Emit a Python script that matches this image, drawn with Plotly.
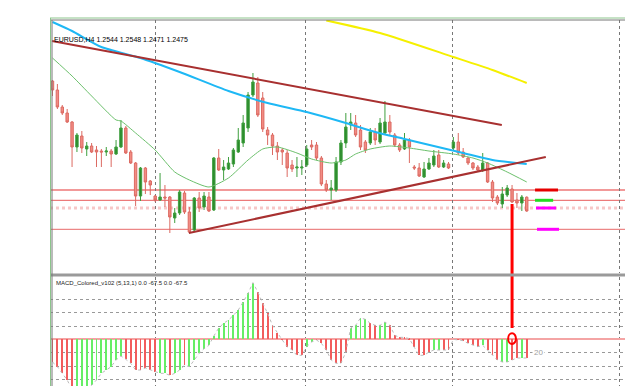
import plotly.graph_objects as go

# ---------------- data ----------------
bars = list(range(98))

# EURUSD H4 prices in pips (price * 10000)
highs = [13130, 13110, 13005, 12985, 12925, 12865, 12875, 12820, 12815, 12800,
         12785, 12795, 12785, 12830, 12930, 12900, 12780, 12720, 12695, 12695,
         12630, 12555, 12665, 12605, 12550, 12490, 12580, 12575, 12495, 12545,
         12570, 12570, 12570, 12745, 12785, 12730, 12745, 12790, 12890, 12955,
         13070, 13165, 13145, 13070, 12895, 12865, 12820, 12790, 12780, 12730,
         12745, 12730, 12805, 12830, 12820, 12750, 12630, 12630, 12745, 12830,
         12965, 12965, 12955, 12905, 12830, 12890, 12890, 12940, 13025, 12955,
         12865, 12815, 12865, 12840, 12705, 12715, 12720, 12740, 12780, 12780,
         12730, 12720, 12845, 12865, 12790, 12745, 12720, 12705, 12765, 12720,
         12630, 12555, 12595, 12605, 12605, 12565, 12555, 12548]
opens = [13125, 13080, 12995, 12965, 12920, 12795, 12850, 12785, 12800, 12780,
         12775, 12770, 12775, 12760, 12795, 12890, 12770, 12715, 12550, 12690,
         12625, 12550, 12530, 12545, 12545, 12440, 12465, 12565, 12470, 12380,
         12540, 12495, 12545, 12480, 12740, 12680, 12685, 12710, 12770, 12815,
         12890, 13055, 13115, 13040, 12880, 12855, 12800, 12780, 12765, 12705,
         12690, 12690, 12705, 12805, 12805, 12740, 12610, 12580, 12580, 12720,
         12815, 12905, 12915, 12880, 12820, 12815, 12870, 12820, 12865, 12920,
         12855, 12805, 12785, 12830, 12695, 12690, 12645, 12685, 12705, 12755,
         12695, 12710, 12790, 12820, 12770, 12740, 12715, 12695, 12680, 12715,
         12620, 12545, 12510, 12555, 12585, 12530, 12515, 12544]
closes = [13080, 12995, 12965, 12920, 12795, 12855, 12790, 12800, 12770, 12770,
          12770, 12775, 12760, 12795, 12890, 12765, 12715, 12550, 12690, 12620,
          12605, 12530, 12545, 12540, 12445, 12465, 12570, 12470, 12370, 12540,
          12490, 12550, 12475, 12740, 12680, 12695, 12715, 12780, 12830, 12915,
          13055, 13120, 12955, 12885, 12855, 12800, 12770, 12770, 12690, 12685,
          12695, 12695, 12785, 12795, 12740, 12610, 12580, 12590, 12720, 12815,
          12895, 12920, 12855, 12795, 12780, 12870, 12830, 12915, 12920, 12870,
          12805, 12780, 12830, 12795, 12690, 12650, 12685, 12715, 12750, 12695,
          12715, 12690, 12820, 12765, 12745, 12715, 12690, 12680, 12715, 12620,
          12540, 12515, 12560, 12590, 12520, 12515, 12545, 12475]
lows = [13050, 12985, 12955, 12915, 12695, 12770, 12765, 12750, 12765, 12695,
        12695, 12750, 12695, 12755, 12790, 12760, 12710, 12500, 12525, 12560,
        12555, 12520, 12525, 12495, 12365, 12415, 12455, 12460, 12365, 12370,
        12470, 12480, 12470, 12475, 12675, 12630, 12680, 12695, 12765, 12795,
        12870, 13045, 12945, 12870, 12805, 12755, 12730, 12705, 12645, 12670,
        12645, 12655, 12695, 12780, 12730, 12600, 12570, 12530, 12570, 12705,
        12790, 12880, 12845, 12780, 12765, 12805, 12805, 12810, 12855, 12855,
        12795, 12770, 12780, 12715, 12680, 12645, 12640, 12680, 12695, 12690,
        12690, 12685, 12780, 12755, 12740, 12705, 12680, 12670, 12670, 12615,
        12520, 12505, 12490, 12545, 12515, 12490, 12475, 12471]

# moving averages, read at selected bars (bar index, pips)
ma_blue_bars = [0, 4, 10, 18, 26, 36, 44, 52, 60, 66, 72, 78, 84, 90, 97]
ma_blue_vals = [13420, 13375, 13295, 13240, 13170, 13075, 13015, 12970, 12915,
                12870, 12835, 12800, 12765, 12730, 12710]
ma_green_bars = [0, 4, 8, 13, 14, 17, 21, 25, 28, 32, 36, 40, 43, 46, 50, 53,
                 57, 60, 62, 65, 69, 73, 77, 82, 86, 89, 93, 97]
ma_green_vals = [13240, 13150, 13050, 12930, 12925, 12865, 12780, 12670, 12630,
                 12595, 12640, 12730, 12785, 12795, 12765, 12735, 12715, 12730,
                 12760, 12785, 12800, 12790, 12775, 12760, 12740, 12715, 12670,
                 12620]
ma_yellow_bars = [56, 67, 82, 90, 97]
ma_yellow_vals = [13428, 13365, 13245, 13180, 13115]

# trend lines (bar index, pips)
trend_upper = ([-0.1, 91.9], [13325, 12905])
trend_lower = ([27.9, 100.9], [12365, 12745])

# horizontal levels and their marker colours
levels = [12580, 12528.5, 12490, 12383.5]
level_marker_colors = ['#e60000', '#22dd22', '#ff00ff', '#ff00ff']
level_marker_span = [(98.7, 103.4), (98.7, 102.4), (98.9, 103.0), (99.1, 103.6)]

# MACD histogram
macd = [-34, -41, -51, -61, -75, -84, -85, -75, -69, -61,
        -51, -46, -41, -31, -25, -30, -36, -46, -46, -43,
        -46, -49, -51, -51, -54, -51, -46, -39, -41, -31,
        -21, -14, -9, 5, 17, 24, 29, 36, 44, 56,
        69, 85, 71, 54, 39, 21, 9, -1, -11, -16,
        -24, -24, -11, -4, -1, -6, -16, -31, -36, -36,
        -19, 17, 21, 32, 30, 24, 21, 21, 26, 21,
        6, 3, 3, 1, -12, -24, -24, -19, -16, -16,
        -16, -16, 0, -1, -2, -6, -9, -11, -9, -16,
        -24, -31, -34, -34, -31, -28, -28, -28]
macd_colors = ("rrrrr" "gggggggggg" "rrrrrrr" "gg" "r" "gg" "r" "gggggggggggggg"
               "rrrrrrrrrr" "gg" "rrrrrrr" "gggg" "rr" "gg" "rrrrrrrrr" "gg" "rr"
               "g" "rrrrr" "g" "rrr" "gg" "rr" "g" "r")
grid_bars = [21, 51.85, 81.9, 116.05]
signal_bar = 94

title_text = "EURUSD,H4 1.2544 1.2548 1.2471 1.2475"
macd_text = "MACD_Colored_v102 (5,13,1) 0.0 -67.5 0.0 -67.5"

# ---------------- layout geometry ----------------
W, H = 625, 386
ML, MT = 50, 20
PLOT_H = H - MT


def py(p):
    return (H - p) / PLOT_H


def pxp(p):
    return (p - ML) / (W - ML)


X_RANGE = [-0.51, 117.1]
Y_MAIN = [12165, 13430]
D_MAIN = [py(273), 1.0]
Y_MACD = [-70, 93.5]
D_MACD = [0.0, py(277)]


def main_paper(v):
    return D_MAIN[0] + (v - Y_MAIN[0]) / (Y_MAIN[1] - Y_MAIN[0]) * (D_MAIN[1] - D_MAIN[0])


def macd_paper(v):
    return D_MACD[0] + (v - Y_MACD[0]) / (Y_MACD[1] - Y_MACD[0]) * (D_MACD[1] - D_MACD[0])


fig = go.Figure()

# candles
fig.add_trace(go.Candlestick(
    x=bars, open=opens, high=highs, low=lows, close=closes,
    xaxis='x', yaxis='y',
    increasing=dict(fillcolor='#2b8a2b', line=dict(color='#3f9f3f', width=1)),
    decreasing=dict(fillcolor='#f28c84', line=dict(color='#dc6a62', width=1)),
    whiskerwidth=0, showlegend=False, hoverinfo='skip'))

# moving averages
fig.add_trace(go.Scatter(x=ma_green_bars, y=ma_green_vals, mode='lines',
                         line=dict(color='#6cc06c', width=1, shape='spline', smoothing=0.6),
                         xaxis='x', yaxis='y', showlegend=False, hoverinfo='skip'))
fig.add_trace(go.Scatter(x=ma_blue_bars, y=ma_blue_vals, mode='lines',
                         line=dict(color='#1eb8f5', width=2, shape='spline', smoothing=0.6),
                         xaxis='x', yaxis='y', showlegend=False, hoverinfo='skip'))
fig.add_trace(go.Scatter(x=ma_yellow_bars, y=ma_yellow_vals, mode='lines',
                         line=dict(color='#f5f000', width=2, shape='spline', smoothing=0.6),
                         xaxis='x', yaxis='y', showlegend=False, hoverinfo='skip'))

# trend lines
for tl in (trend_upper, trend_lower):
    fig.add_trace(go.Scatter(x=tl[0], y=tl[1], mode='lines',
                             line=dict(color='#a83030', width=2),
                             xaxis='x', yaxis='y', showlegend=False, hoverinfo='skip'))

# MACD histogram
cmap = {'g': '#66ee66', 'r': '#f25c5c'}
fig.add_trace(go.Bar(x=bars, y=macd, marker=dict(color=[cmap[c] for c in macd_colors], line=dict(width=0)),
                     width=0.2, xaxis='x2', yaxis='y2', showlegend=False, hoverinfo='skip'))
fig.add_trace(go.Scatter(x=bars, y=macd, mode='lines',
                         line=dict(color='#bbbbbb', width=1, dash='dot'),
                         xaxis='x2', yaxis='y2', showlegend=False, hoverinfo='skip'))

shapes = []
# horizontal levels
level_styles = [dict(color='rgba(236,110,110,0.7)', width=2),
                dict(color='#e85a5a', width=1),
                dict(color='rgba(242,170,170,0.65)', width=3, dash='dot'),
                dict(color='#e86a6a', width=1)]
for lv, st in zip(levels, level_styles):
    shapes.append(dict(type='line', xref='paper', x0=0, x1=1, yref='y', y0=lv, y1=lv,
                       line=st, layer='below'))
for lv, col, (a, b) in zip(levels, level_marker_colors, level_marker_span):
    shapes.append(dict(type='line', xref='x', x0=a, x1=b, yref='y', y0=lv, y1=lv,
                       line=dict(color=col, width=3)))

# vertical signal line and circle
shapes.append(dict(type='line', xref='x', x0=signal_bar, x1=signal_bar, yref='paper',
                   y0=main_paper(12510), y1=macd_paper(17), line=dict(color='#ff0000', width=3)))
shapes.append(dict(type='circle', xref='x2', yref='y2', x0=signal_bar - 0.8, x1=signal_bar + 0.8,
                   y0=-7, y1=9, line=dict(color='#ff0000', width=2)))

# panel frames
shapes.append(dict(type='line', xref='paper', yref='paper', x0=0, x1=1, y0=py(18), y1=py(18),
                   line=dict(color='#8cc48c', width=1)))
shapes.append(dict(type='line', xref='paper', yref='paper', x0=0, x1=1, y0=py(20), y1=py(20),
                   line=dict(color='#777777', width=1)))
shapes.append(dict(type='rect', xref='paper', yref='paper', x0=0, x1=1, y0=py(276.5), y1=py(273.5),
                   fillcolor='#9a9a9a', line=dict(width=0)))
shapes.append(dict(type='line', xref='paper', yref='paper', x0=pxp(50.5), x1=pxp(50.5), y0=0, y1=py(18),
                   line=dict(color='#8cc48c', width=1)))
shapes.append(dict(type='line', xref='paper', yref='paper', x0=pxp(52), x1=pxp(52), y0=0, y1=py(20),
                   line=dict(color='#777777', width=1)))

annotations = [
    dict(text=title_text, xref='paper', yref='paper', x=pxp(52), y=py(40), xanchor='left',
         yanchor='middle', showarrow=False, font=dict(family='Liberation Sans', size=7, color='#000000')),
    dict(text=macd_text, xref='paper', yref='paper', x=pxp(54), y=py(283), xanchor='left',
         yanchor='middle', showarrow=False, font=dict(family='Liberation Sans', size=6, color='#222222')),
    dict(text='20', xref='x2', yref='y2', x=98.1, y=-20, xanchor='left', yanchor='middle',
         showarrow=False, font=dict(family='Liberation Sans', size=8, color='#a0a0a0'),
         bgcolor='white'),
]

axis_x = dict(range=X_RANGE, showticklabels=False, ticks='', tickvals=grid_bars, showgrid=True,
              gridcolor='#777777', griddash='dot', gridwidth=1, zeroline=False, showline=False,
              fixedrange=True)
fig.update_layout(
    width=W, height=H, margin=dict(l=ML, r=0, t=MT, b=0),
    paper_bgcolor='white', plot_bgcolor='white', bargap=0,
    xaxis=dict(axis_x, anchor='y', rangeslider=dict(visible=False)),
    xaxis2=dict(axis_x, anchor='y2'),
    yaxis=dict(domain=D_MAIN, range=Y_MAIN, showticklabels=False, showgrid=False,
               zeroline=False, ticks=''),
    yaxis2=dict(domain=D_MACD, range=Y_MACD, showticklabels=False, ticks='',
                tickvals=[-60, -40, -20, 20, 40, 60], showgrid=True, gridcolor='#999999',
                griddash='dot', gridwidth=1, zeroline=True, zerolinecolor='#f4a4a4',
                zerolinewidth=2),
    shapes=shapes, annotations=annotations,
)

fig.write_html("out.html")
